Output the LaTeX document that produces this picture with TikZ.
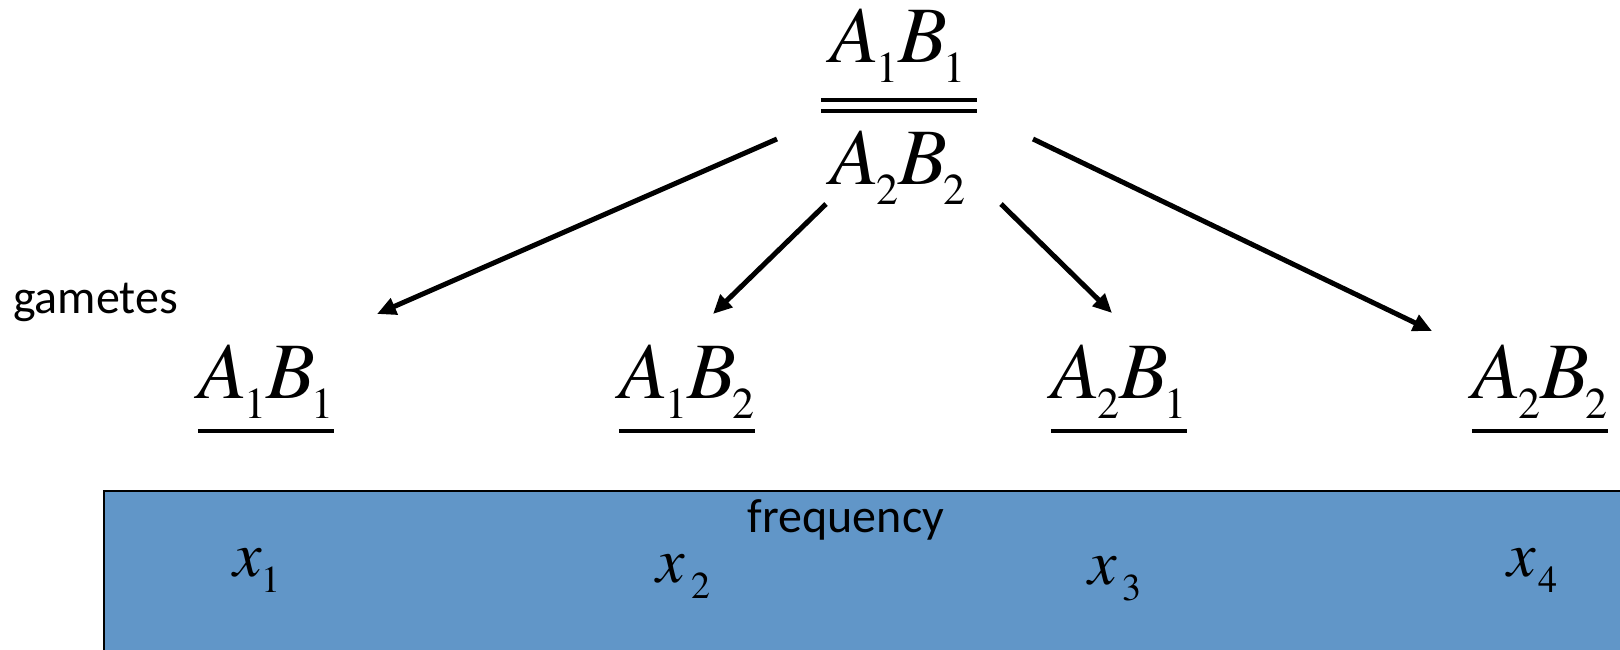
\documentclass[tikz,border=0pt]{standalone}
\usepackage{fontspec}
\newfontfamily\tnrfont{texgyretermes}[Extension=.otf, UprightFont=*-regular, ItalicFont=*-italic, BoldFont=*-bold, BoldItalicFont=*-bolditalic]
\newfontfamily\calfont{Carlito}
\usetikzlibrary{arrows.meta}
\definecolor{boxblue}{RGB}{97,150,200}
\newcommand\sbx[1]{\kern-3pt\raisebox{-20pt}{\tnrfont\fontsize{44}{44}\selectfont\upshape #1}}
\newcommand\gam[4]{{\tnrfont\fontsize{80}{80}\selectfont\itshape #1\sbx{#2}#3\sbx{#4}}}
\newcommand\xsb[2]{{\tnrfont\fontsize{64}{64}\selectfont\itshape x}\hspace{#2}\raisebox{-16pt}{\tnrfont\fontsize{38}{38}\selectfont\upshape #1}}
\begin{document}
\begin{tikzpicture}[x=1pt,y=-1pt,
  gamnode/.style={inner sep=0pt, anchor=base},
  lbl/.style={inner sep=0pt, font=\calfont\fontsize{48}{48}\selectfont},
  xnode/.style={inner sep=0pt, anchor=base west},
  uline/.style={line width=3.2pt},
  arr/.style={line width=5pt, -{Triangle[length=19pt,width=17pt]}}]
\useasboundingbox (0,0) rectangle (1620,650);
% frequency box
\fill[boxblue] (104,491) rectangle (1620,650);
\draw[line width=2.6pt] (104,650) -- (104,491) -- (1620,491);
% parent genotype
\node[gamnode] (num) at (898,63) {\gam{A}{1}{B}{1}};
\node[gamnode] (den) at (898,185) {\gam{A}{2}{B}{2}};
\draw[uline] ([xshift=-9pt,yshift=-37pt]num.base west) -- ([xshift=11pt,yshift=-37pt]num.base east);
\draw[uline] ([xshift=-9pt,yshift=-48pt]num.base west) -- ([xshift=11pt,yshift=-48pt]num.base east);
% gametes
\node[lbl, anchor=base west] (gt) at (13,313) {gametes};
\node[gamnode] (g1) at (266,398) {\gam{A}{1}{B}{1}};
\node[gamnode] (g2) at (687,398) {\gam{A}{1}{B}{2}};
\node[gamnode] (g3) at (1119,398) {\gam{A}{2}{B}{1}};
\node[gamnode] (g4) at (1540,398) {\gam{A}{2}{B}{2}};
\foreach \g in {g1,g2,g3,g4}{
  \draw[uline] ([yshift=-33pt]\g.base west) -- ([yshift=-33pt]\g.base east);
}
% arrows
\coordinate (s1) at (777,139); \coordinate (e1) at (377,314);
\coordinate (s2) at (826,204); \coordinate (e2) at (713,314);
\coordinate (s3) at (1001,204); \coordinate (e3) at (1112,313);
\coordinate (s4) at (1033,139); \coordinate (e4) at (1432,331);
\draw[arr] (s1) -- (e1);
\draw[arr] (s2) -- (e2);
\draw[arr] (s3) -- (e3);
\draw[arr] (s4) -- (e4);
% frequency labels
\node[lbl, anchor=base] (fq) at (846,532) {frequency};
\node[xnode] (x1) at (233,576) {\xsb{1}{0pt}};
\node[xnode] (x2) at (656,582) {\xsb{2}{7pt}};
\node[xnode] (x3) at (1088,584) {\xsb{3}{6pt}};
\node[xnode] (x4) at (1507,576) {\xsb{4}{3pt}};
\end{tikzpicture}
\end{document}
